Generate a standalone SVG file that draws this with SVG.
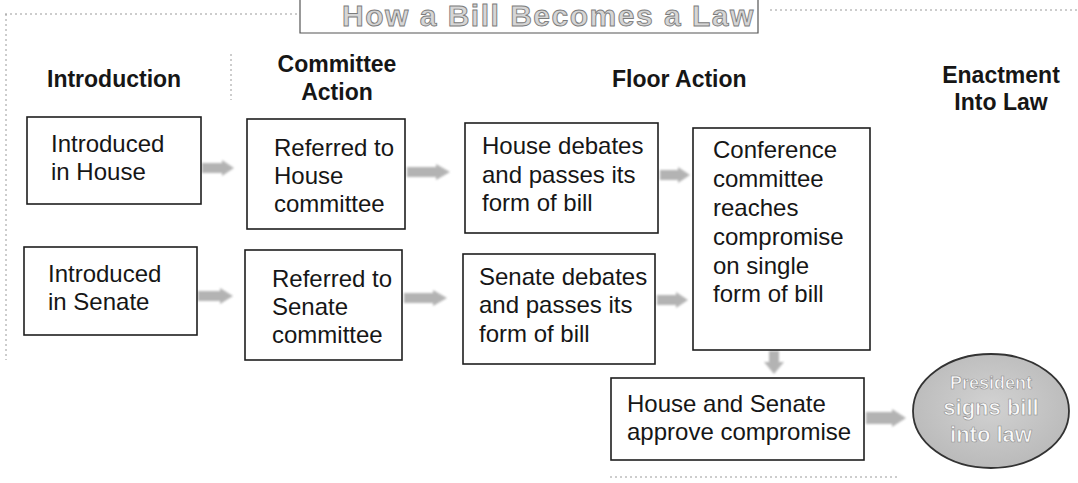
<svg xmlns="http://www.w3.org/2000/svg" width="1078" height="483" viewBox="0 0 1078 483">
<style>
.box{fill:#fff;stroke:#1e1e1e;stroke-width:1.6}
.t{font-family:"Liberation Sans",Arial,sans-serif;font-size:24px;fill:#161616}
.h{font-family:"Liberation Sans",Arial,sans-serif;font-size:23px;font-weight:bold;fill:#161616}
.title{font-family:"Liberation Sans",Arial,sans-serif;font-size:30px;font-weight:bold;fill:#d6d6d6;stroke:#7c7c7c;stroke-width:0.9;letter-spacing:1.5px}
.pres{font-family:"Liberation Sans",Arial,sans-serif;font-size:22px;font-weight:bold;fill:#fafafa;stroke:#8e8e8e;stroke-width:0.6;text-anchor:middle}
.dot{stroke:#9a9a9a;stroke-width:1;stroke-dasharray:2 3;fill:none}
.arr{fill:#8c8c8c;opacity:0.65;filter:url(#blur)}
</style>
<defs>
<filter id="blur" x="-20%" y="-40%" width="140%" height="180%"><feGaussianBlur stdDeviation="1.2"/></filter>
<radialGradient id="cg" cx="50%" cy="45%" r="60%"><stop offset="0" stop-color="#d2d2d2"/><stop offset="1" stop-color="#b8b8b8"/></radialGradient>
</defs>
<rect width="1078" height="483" fill="#fff"/>
<g id="frame">
<path class="dot" d="M5,14 H300 M6,14 V360 M231,54 V100 M770,10 H1078 M610,477 H900"/>
<path d="M300,0 V33 H758 V0" fill="none" stroke="#555" stroke-width="1.2"/>
<text class="title" x="342" y="26">How a Bill Becomes a Law</text>
</g>
<g id="headers">
<text class="h" x="47" y="87">Introduction</text>
<text class="h" x="337" y="72" text-anchor="middle">Committee</text>
<text class="h" x="337" y="100" text-anchor="middle">Action</text>
<text class="h" x="612" y="87">Floor Action</text>
<text class="h" x="1001" y="83" text-anchor="middle">Enactment</text>
<text class="h" x="1001" y="110" text-anchor="middle">Into Law</text>
</g>
<g id="connectors">
<polygon class="arr" points="202,163 222,163 222,160 234,168 222,176 222,173 202,173"/>
<polygon class="arr" points="198,291 220,291 220,288 233,296 220,304 220,301 198,301"/>
<polygon class="arr" points="407,167 436,167 436,164 450,172 436,180 436,177 407,177"/>
<polygon class="arr" points="404,293 433,293 433,290 447,298 433,306 433,303 404,303"/>
<polygon class="arr" points="660,170 678,170 678,167 690,175 678,183 678,180 660,180"/>
<polygon class="arr" points="657,295 676,295 676,292 688,300 676,308 676,305 657,305"/>
<polygon class="arr" points="769,351 779,351 779,362 784,362 774,374 764,362 769,362"/>
<polygon class="arr" points="866,412 892,412 892,409 906,418 892,427 892,424 866,424"/>
</g>
<g id="n-intro-house">
<rect class="box" x="27" y="117" width="174" height="87"/>
<text class="t" x="51" y="152">Introduced</text>
<text class="t" x="51" y="180">in House</text>
</g>
<g id="n-intro-senate">
<rect class="box" x="24" y="247" width="173" height="88"/>
<text class="t" x="48" y="282">Introduced</text>
<text class="t" x="48" y="310">in Senate</text>
</g>
<g id="n-ref-house">
<rect class="box" x="247" y="119" width="158" height="110"/>
<text class="t" x="274" y="156">Referred to</text>
<text class="t" x="274" y="184">House</text>
<text class="t" x="274" y="212">committee</text>
</g>
<g id="n-ref-senate">
<rect class="box" x="245" y="250" width="157" height="110"/>
<text class="t" x="272" y="287">Referred to</text>
<text class="t" x="272" y="315">Senate</text>
<text class="t" x="272" y="343">committee</text>
</g>
<g id="n-house-debates">
<rect class="box" x="465" y="123" width="193" height="110"/>
<text class="t" x="482" y="154">House debates</text>
<text class="t" x="482" y="183">and passes its</text>
<text class="t" x="482" y="211">form of bill</text>
</g>
<g id="n-senate-debates">
<rect class="box" x="463" y="254" width="192" height="110"/>
<text class="t" x="479" y="285">Senate debates</text>
<text class="t" x="479" y="313">and passes its</text>
<text class="t" x="479" y="342">form of bill</text>
</g>
<g id="n-conference">
<rect class="box" x="693" y="128" width="177" height="222"/>
<text class="t" x="713" y="158">Conference</text>
<text class="t" x="713" y="187">committee</text>
<text class="t" x="713" y="216">reaches</text>
<text class="t" x="713" y="245">compromise</text>
<text class="t" x="713" y="274">on single</text>
<text class="t" x="713" y="302">form of bill</text>
</g>
<g id="n-approve">
<rect class="box" x="611" y="378" width="253" height="82"/>
<text class="t" x="627" y="412">House and Senate</text>
<text class="t" x="627" y="440">approve compromise</text>
</g>
<g id="n-president">
<ellipse cx="991" cy="411" rx="78" ry="57" fill="url(#cg)" stroke="#333" stroke-width="1.8"/>
<text class="pres" x="991" y="389" style="font-size:18px">President</text>
<text class="pres" x="991" y="415">signs bill</text>
<text class="pres" x="991" y="442">into law</text>
</g>
</svg>
